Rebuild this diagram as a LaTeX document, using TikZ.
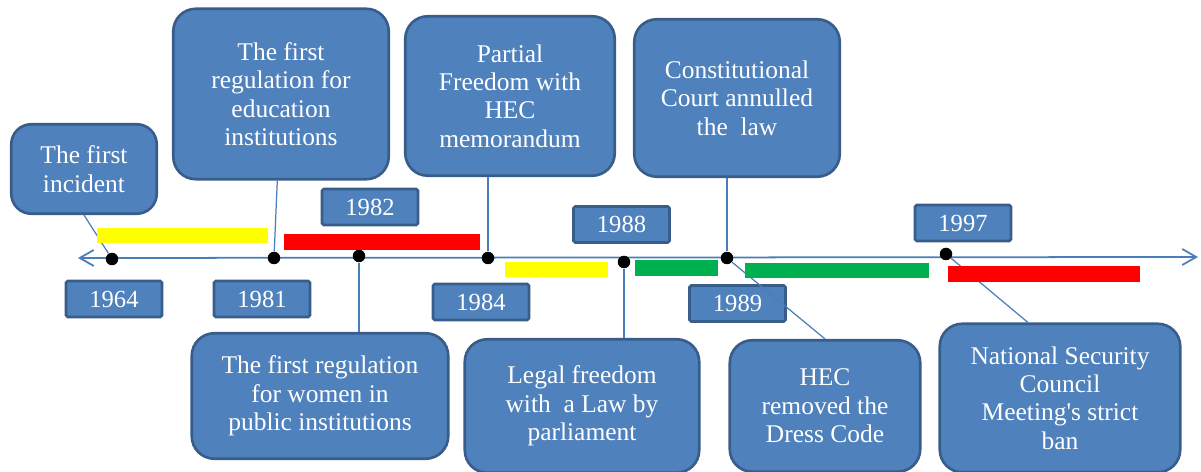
\documentclass[tikz,border=0pt]{standalone}
\usepackage{fontspec}
\setmainfont{Liberation Serif}
\usetikzlibrary{arrows.meta}

\definecolor{boxblue}{HTML}{4F81BD}
\definecolor{boxedge}{HTML}{385D8A}
\definecolor{lineblue}{HTML}{4A7EBB}
\definecolor{barred}{HTML}{FF0000}
\definecolor{baryellow}{HTML}{FFFF00}
\definecolor{bargreen}{HTML}{00B050}

\tikzstyle{event} = [rectangle, rounded corners=0.45cm, align=center, draw=boxedge, line width=1.5pt, 
fill=boxblue, text=white, font=\fontsize{14.5}{16.2}\selectfont]
\tikzstyle{year} = [rectangle, rounded corners=1pt, minimum width=1.92cm, minimum height=0.72cm, text centered, draw=boxedge, line width=1.5pt, fill=boxblue, text=white, font=\fontsize{14}{16}\selectfont]
\tikzstyle{dotnode} = [circle, fill=black, inner sep=0pt, minimum size=0.25cm]
\tikzstyle{link} = [draw=lineblue, line width=0.7pt]
\tikzstyle{timeline} = [draw=lineblue, line width=1pt, {Straight Barb[length=0.28cm,width=0.32cm]}-{Straight Barb[length=0.28cm,width=0.32cm]}]

\begin{document}
\begin{tikzpicture}[node distance=0.8cm, x=0.02cm, y=-0.02cm]
			\useasboundingbox (0,0) rectangle (1201,472);
			\coordinate (axisStart) at (78,258);
			\coordinate (axisEnd) at (1198,257);
			\draw [timeline] (axisStart) -- (axisEnd);
			
			\node (dot1964) [dotnode] at (112,259) {};
			\node (dot1981) [dotnode] at (274,258) {};
			\node (dot1982) [dotnode] at (359,256) {};
			\node (dot1984) [dotnode] at (488,258) {};
			\node (dot1988) [dotnode] at (624,262) {};
			\node (dot1989) [dotnode] at (727,258) {};
			\node (dot1997) [dotnode] at (946,254) {};
			
			\node (year1964) [year, below of=dot1964, xshift=0.04cm] {1964};
			\node (year1981) [year, below of=dot1981, xshift=-0.24cm, yshift=-0.02cm] {1981};
			\node (year1982) [year, above of=dot1982, xshift=0.22cm, yshift=0.18cm] {1982};
			\node (year1984) [year, below of=dot1984, xshift=-0.14cm, yshift=-0.08cm] {1984};
			\node (year1988) [year, above of=dot1988, xshift=-0.05cm, yshift=-0.05cm] {1988};
			\node (year1989) [year, below of=dot1989, xshift=0.21cm, yshift=-0.11cm] {1989};
			\node (year1997) [year, above of=dot1997, xshift=0.34cm, yshift=-0.18cm] {1997};
			
			\node (incident) [event, rounded corners=0.4cm, minimum width=2.91cm, minimum height=1.79cm] at (84,169) {The first\\incident};
			\node (eduRegulation) [event, minimum width=4.31cm, minimum height=3.41cm] at (281,94) {The first\\regulation for\\education\\institutions};
			\node (partialFreedom) [event, minimum width=4.19cm, minimum height=3.19cm] at (510,96) {Partial\\Freedom with\\HEC\\memorandum};
			\node (courtAnnulled) [event, minimum width=4.11cm, minimum height=3.15cm] at (737,98) {Constitutional\\Court annulled\\the\ \ law};
			\node (womenRegulation) [event, minimum width=5.13cm, minimum height=2.51cm] at (320,396) {The first regulation\\for women in\\public institutions};
			\node (legalFreedom) [event, minimum width=4.69cm, minimum height=2.67cm] at (582,406) {Legal freedom\\with\ \ a Law by\\parliament};
			\node (dressCode) [event, minimum width=3.81cm, minimum height=2.63cm] at (825,406) {HEC\\removed the\\Dress Code};
			\node (strictBan) [event, minimum width=4.81cm, minimum height=2.97cm] at (1060,398) {National Security\\Council\\Meeting\textquotesingle s strict\\ban};
			
			\draw [link] (incident.south) -- (dot1964);
			\draw [link] (eduRegulation) -- (dot1981);
			\draw [link] (dot1982) -- (dot1982 |- womenRegulation.north);
			\draw [link] (dot1984) -- (dot1984 |- partialFreedom.south);
			\draw [link] (dot1988) -- (dot1988 |- legalFreedom.north);
			\draw [link] (dot1989) -- (dot1989 |- courtAnnulled.south);
			\draw [link] (dot1989) -- (dressCode.north);
			\draw [link] (dot1997) -- (strictBan.113);
			
			\fill [baryellow] (97,228) rectangle (268,243);
			\fill [barred] (284,234) rectangle (480,250);
			\fill [baryellow] (505,262) rectangle (608,277);
			\fill [bargreen] (635,260) rectangle (718,276);
			\fill [bargreen] (745,263) rectangle (929,278);
			\fill [barred] (948,266) rectangle (1140,282);
			
		\end{tikzpicture}
\end{document}
